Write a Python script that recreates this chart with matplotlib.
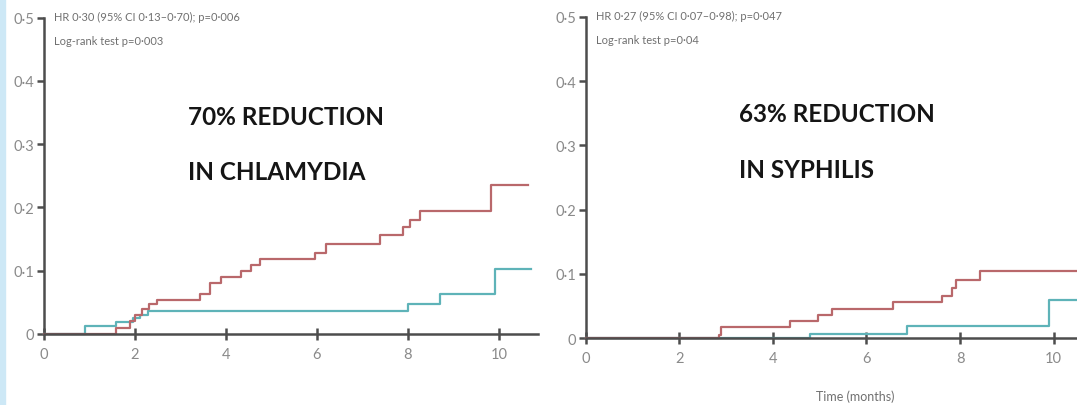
import matplotlib
matplotlib.use('Agg')
import matplotlib.pyplot as plt
from matplotlib.patches import Rectangle

# cumulative incidence curves (time in months)
chl_red_t = [0, 1.58, 1.89, 2.0, 2.15, 2.3, 2.48, 3.44, 3.65, 3.9, 4.32, 4.56, 4.75,
             5.96, 6.2, 7.38, 7.9, 8.04, 8.26, 9.82, 10.63]
chl_red_y = [0, 0.01, 0.02, 0.03, 0.04, 0.047, 0.054, 0.063, 0.08, 0.09, 0.099, 0.109, 0.119,
             0.128, 0.142, 0.156, 0.169, 0.18, 0.194, 0.235, 0.235]
chl_cyan_t = [0, 0.9, 1.58, 1.95, 2.1, 2.29, 8.0, 8.7, 9.91, 10.7]
chl_cyan_y = [0, 0.012, 0.019, 0.025, 0.03, 0.036, 0.047, 0.063, 0.102, 0.102]

syph_red_t = [0, 2.84, 2.9, 4.37, 4.97, 5.26, 6.56, 7.61, 7.82, 7.91, 8.42, 10.6]
syph_red_y = [0, 0.005, 0.017, 0.027, 0.036, 0.046, 0.056, 0.066, 0.079, 0.091, 0.104, 0.104]
syph_cyan_t = [0, 4.79, 6.87, 9.9, 10.6]
syph_cyan_y = [0, 0.007, 0.019, 0.06, 0.06]

x_ticks = [0, 2, 4, 6, 8, 10]
y_ticks = [0, 0.1, 0.2, 0.3, 0.4, 0.5]
y_labels = ['0', '0·1', '0·2', '0·3', '0·4', '0·5']

stats_chl = ['HR 0·30 (95% CI 0·13–0·70); p=0·006', 'Log-rank test p=0·003']
stats_syph = ['HR 0·27 (95% CI 0·07–0·98); p=0·047', 'Log-rank test p=0·04']
head_chl = ['70% REDUCTION', 'IN CHLAMYDIA']
head_syph = ['63% REDUCTION', 'IN SYPHILIS']

RED = '#b9686b'
CYAN = '#5eb3b8'
AXC = '#4d4d4d'
GREY = '#8a8a8a'
NARROW = ['Liberation Sans Narrow', 'Lato', 'DejaVu Sans']

fig = plt.figure(figsize=(10.77, 4.06), dpi=100)
fig.patches.append(Rectangle((0, 0), 5 / 1077, 1, transform=fig.transFigure,
                             color='#cde8f6', zorder=0))


def panel(rect, xmax, red_t, red_y, cyan_t, cyan_y, stats, head, head_x, head_y):
    ax = fig.add_axes(rect)
    ax.step(cyan_t, cyan_y, where='post', color=CYAN, lw=1.6, clip_on=False, zorder=3)
    ax.step(red_t, red_y, where='post', color=RED, lw=1.6, clip_on=False, zorder=4)
    ax.set_xlim(0, xmax)
    ax.set_ylim(0, 0.5)
    for s in ['top', 'right']:
        ax.spines[s].set_visible(False)
    for s in ['left', 'bottom']:
        ax.spines[s].set_color(AXC)
        ax.spines[s].set_linewidth(1.8)
    ax.spines['bottom'].set_zorder(5)
    ax.set_xticks(x_ticks)
    ax.set_xticklabels([str(v) for v in x_ticks])
    ax.set_yticks(y_ticks)
    ax.set_yticklabels(y_labels)
    ax.tick_params(axis='y', direction='out', length=5, width=1.8, color=AXC,
                   labelcolor=GREY, labelsize=10.5, pad=2)
    ax.tick_params(axis='x', direction='inout', length=9, width=1.8, color=AXC,
                   labelcolor=GREY, labelsize=10.5, pad=5)
    for lab in ax.get_xticklabels() + ax.get_yticklabels():
        lab.set_family(NARROW)
    ax.text(0.22, 0.502, stats[0], fontsize=8, color='#707070', family=NARROW,
            va='center', ha='left', clip_on=False)
    ax.text(0.22, 0.464, stats[1], fontsize=8, color='#707070', family=NARROW,
            va='center', ha='left', clip_on=False)
    ax.text(head_x, head_y[0], head[0], fontsize=17.5, fontweight='bold', color='#151515',
            family=NARROW, va='center', ha='left')
    ax.text(head_x, head_y[1], head[1], fontsize=17.5, fontweight='bold', color='#151515',
            family=NARROW, va='center', ha='left')
    return ax


panel([44 / 1077, 71 / 406, 494 / 1077, 316.5 / 406], 10.86,
      chl_red_t, chl_red_y, chl_cyan_t, chl_cyan_y,
      stats_chl, head_chl, 3.16, (0.344, 0.257))

ax2 = panel([585.7 / 1077, 66.7 / 406, 491.3 / 1077, 321.5 / 406], 10.5,
            syph_red_t, syph_red_y, syph_cyan_t, syph_cyan_y,
            stats_syph, head_syph, 3.28, (0.349, 0.263))

fig.text(855 / 1077, 1 - 397 / 406, 'Time (months)', fontsize=9, color='#707070',
         family=NARROW, ha='center', va='center')

fig.savefig('out.png', dpi=100)
